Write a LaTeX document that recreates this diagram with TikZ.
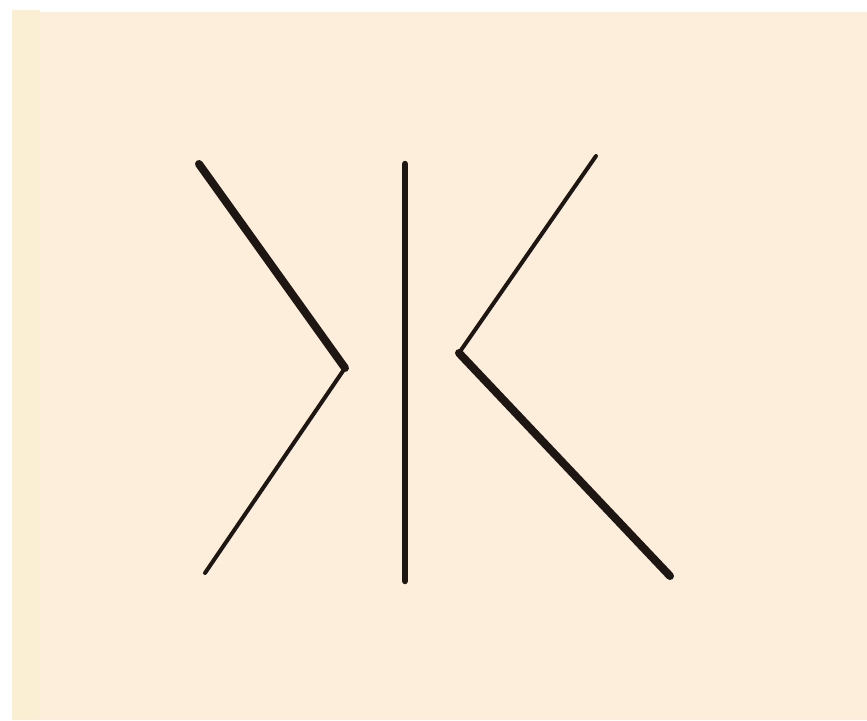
\documentclass[tikz,border=0pt]{standalone}
\definecolor{paper}{HTML}{FDEEDC}
\definecolor{edge}{HTML}{FBEFD3}
\definecolor{ink}{HTML}{1E1612}

\begin{document}
\begin{tikzpicture}
[
	thickline/.style={draw=ink,line width=8pt,line cap=round,line join=miter},
	thinline/.style={draw=ink,line width=4pt,line cap=round},
	x=1pt,
	y=-1pt
]

	\useasboundingbox (0,0) rectangle (867,720);
	\fill[white] (0,0) rectangle (867,720);
	\fill[edge] (12,10) rectangle (40,720);
	\fill[paper] (40,12) rectangle (867,720);

	% left bracket
	\coordinate (ltop) at (199,164);
	\coordinate (lbend) at (345,368);
	\coordinate (lbot) at (205,573);
	\draw[thickline] (ltop) -- (lbend);
	\draw[thinline] (lbend) -- (lbot);

	% middle bar
	\coordinate (mtop) at (405,164);
	\coordinate (mbot) at (405,581);
	\draw[thickline,line width=6.5pt] (mtop) -- (mbot);

	% right bracket
	\coordinate (rtop) at (596,156);
	\coordinate (rbend) at (459,353);
	\coordinate (rbot) at (670,576);
	\draw[thinline] (rtop) -- (rbend);
	\draw[thickline] (rbend) -- (rbot);

\end{tikzpicture}
\end{document}
